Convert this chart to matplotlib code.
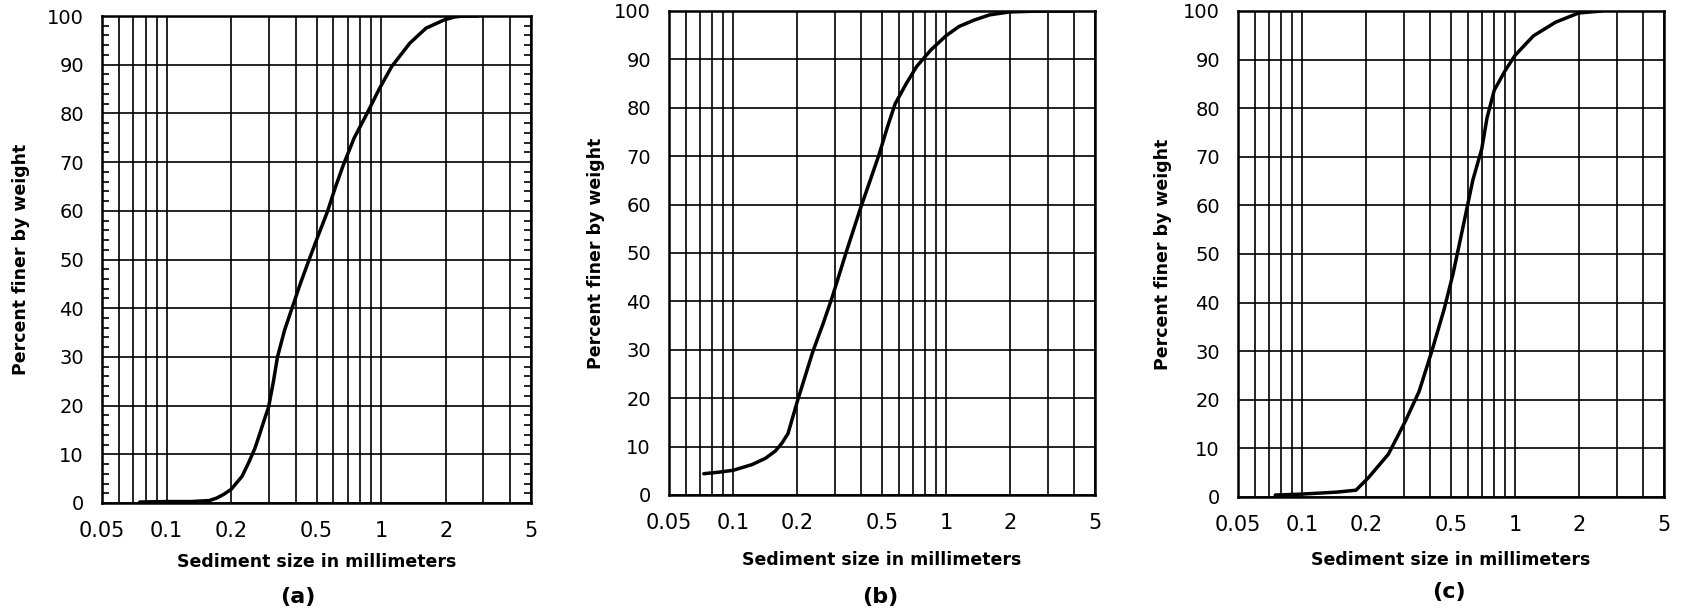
import matplotlib
matplotlib.use("Agg")
import matplotlib.pyplot as plt
from matplotlib.ticker import FixedLocator, FixedFormatter, MultipleLocator

# ---- data ----
size_a = [0.075, 0.10, 0.13, 0.158, 0.171, 0.185, 0.20, 0.225, 0.242, 0.258, 0.271, 0.285, 0.299,
          0.315, 0.329, 0.355, 0.383, 0.42, 0.464, 0.51, 0.562, 0.612, 0.668, 0.75, 0.858,
          0.98, 1.12, 1.36, 1.62, 1.97, 2.2, 2.42, 2.82]
pct_a = [0.2, 0.3, 0.3, 0.5, 1.0, 1.8, 2.8, 5.5, 8.4, 11.2, 14.0, 17.0, 19.7,
         25.0, 30.0, 35.5, 39.8, 45.0, 50.2, 55.0, 59.8, 64.8, 69.5, 75.0, 79.9,
         85.0, 89.6, 94.4, 97.5, 99.2, 99.8, 100.0, 100.0]

size_b = [0.0728, 0.085, 0.10, 0.123, 0.142, 0.158, 0.170, 0.181, 0.201, 0.237, 0.265,
          0.292, 0.342, 0.398, 0.44, 0.484, 0.53, 0.576, 0.65, 0.726, 0.85, 1.0, 1.15, 1.35,
          1.6, 1.98, 2.8, 3.98]
pct_b = [4.4, 4.7, 5.1, 6.3, 7.6, 9.1, 10.8, 12.7, 19.6, 29.7, 35.5,
         40.9, 50.6, 59.5, 65.0, 70.3, 76.0, 80.8, 85.0, 88.5, 92.0, 94.9, 96.8, 98.1,
         99.2, 99.8, 100.0, 100.0]

size_c = [0.0748, 0.10, 0.145, 0.179, 0.205, 0.254, 0.303, 0.354, 0.405, 0.464, 0.511,
          0.574, 0.633, 0.697, 0.738, 0.798, 0.897, 1.0, 1.22, 1.55, 1.99, 2.56]
pct_c = [0.4, 0.6, 1.0, 1.4, 4.0, 8.8, 15.3, 21.7, 29.8, 38.6, 45.9,
         56.3, 65.2, 71.6, 78.0, 83.7, 87.7, 90.9, 94.9, 97.7, 99.6, 100.0]

x_ticks = [0.05, 0.1, 0.2, 0.5, 1, 2, 5]
x_tick_labels = ["0.05", "0.1", "0.2", "0.5", "1", "2", "5"]
x_minor = [0.06, 0.07, 0.08, 0.09, 0.3, 0.4, 0.6, 0.7, 0.8, 0.9, 3, 4]
y_ticks = list(range(0, 101, 10))
panel_labels = ["(a)", "(b)", "(c)"]
xlabel = "Sediment size in millimeters"
ylabel = "Percent finer by weight"

W, H = 1684, 616
fig = plt.figure(figsize=(W / 100, H / 100), dpi=100)
fig.patch.set_facecolor("white")

# axes boxes in pixels: left, top, right, bottom
boxes = [(102, 16, 531, 503), (669, 11, 1095, 495), (1238, 11, 1664, 497)]
ylab_x = [21, 596, 1163]
xlab_y = [562, 560, 560]
plab_y = [597, 597, 592]
plab_x = [298, 880, 1449]

series = [(size_a, pct_a), (size_b, pct_b), (size_c, pct_c)]

for i, ((l, t, r, b), (xs, ys)) in enumerate(zip(boxes, series)):
    ax = fig.add_axes([l / W, 1 - b / H, (r - l) / W, (b - t) / H])
    ax.set_xscale("log")
    ax.set_xlim(0.05, 5)
    ax.set_ylim(0, 100)
    ax.plot(xs, ys, color="black", lw=2.5, solid_capstyle="round",
            solid_joinstyle="round", zorder=3)

    ax.xaxis.set_major_locator(FixedLocator(x_ticks))
    ax.xaxis.set_major_formatter(FixedFormatter(x_tick_labels))
    ax.xaxis.set_minor_locator(FixedLocator(x_minor))
    ax.xaxis.set_minor_formatter(FixedFormatter([""] * len(x_minor)))
    ax.set_yticks(y_ticks)
    ax.set_yticklabels([str(v) for v in y_ticks])

    ax.grid(axis="x", which="both", color="black", lw=1.2)
    ax.grid(axis="y", which="major", color="black", lw=1.2)

    ax.tick_params(axis="x", which="both", length=0, pad=13, labelsize=15)
    ax.tick_params(axis="y", which="major", length=0, pad=13, labelsize=14)
    if i == 0:
        ax.yaxis.set_minor_locator(MultipleLocator(2))
        ax.tick_params(axis="y", which="minor", direction="in", length=5,
                       width=1.2, left=True, right=True, color="black")
    for sp in ax.spines.values():
        sp.set_linewidth(1.8)
        sp.set_color("black")

    fig.text(ylab_x[i] / W, 1 - ((t + b) / 2) / H, ylabel, rotation=90,
             ha="center", va="center", fontsize=12.5, fontweight="bold")
    fig.text(((l + r) / 2) / W, 1 - xlab_y[i] / H, xlabel,
             ha="center", va="center", fontsize=12.5, fontweight="bold")
    fig.text(plab_x[i] / W, 1 - plab_y[i] / H, panel_labels[i],
             ha="center", va="center", fontsize=16, fontweight="bold")

fig.savefig("out.png", dpi=100, facecolor="white")
